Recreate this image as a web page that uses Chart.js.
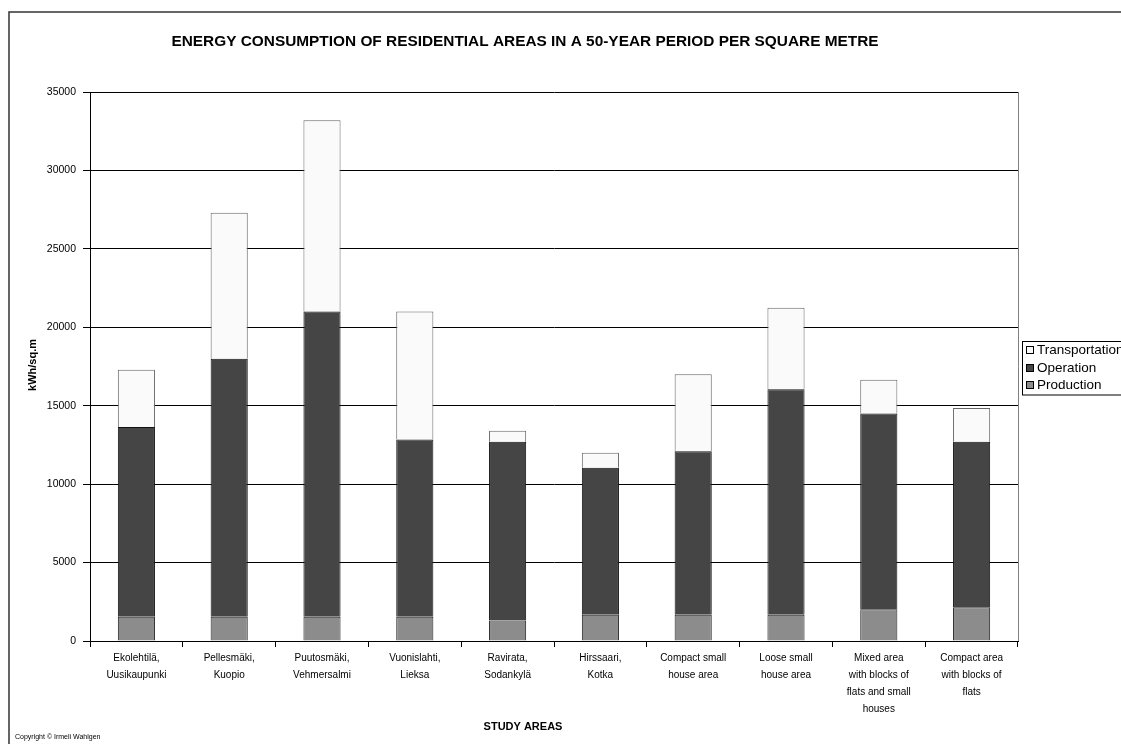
<!DOCTYPE html>
<html>
<head>
<meta charset="utf-8">
<script src="https://cdn.jsdelivr.net/npm/chart.js@4/dist/chart.umd.min.js"></script>
<style>
  html, body { margin: 0; padding: 0; background: #fff; }
  #wrap { width: 1121px; height: 744px; }
</style>
</head>
<body>
<div id="wrap"><canvas id="c" width="1121" height="744"></canvas></div>
<script>
// Study areas (category axis labels, one array per line break)
const categories = [
  ["Ekolehtilä,", "Uusikaupunki"],
  ["Pellesmäki,", "Kuopio"],
  ["Puutosmäki,", "Vehmersalmi"],
  ["Vuonislahti,", "Lieksa"],
  ["Ravirata,", "Sodankylä"],
  ["Hirssaari,", "Kotka"],
  ["Compact small", "house area"],
  ["Loose small", "house area"],
  ["Mixed area", "with blocks of", "flats and small", "houses"],
  ["Compact area", "with blocks of", "flats"]
];

// Energy use over 50 years, kWh per square metre
const production     = [1550, 1550, 1550, 1550, 1300, 1680, 1680, 1680, 2020, 2150];
const operation      = [12100, 16450, 19450, 11300, 11400, 9370, 10420, 14370, 12480, 10550];
const transportation = [3650, 9300, 12200, 8150, 700, 950, 4900, 5200, 2150, 2150];

const seriesNames = ["Production", "Operation", "Transportation"];
const yTicks = [0, 5000, 10000, 15000, 20000, 25000, 30000, 35000];

const FONT = '"Liberation Sans", Arial, Helvetica, sans-serif';

// Frame, titles, plot border and legend drawn around the chart
const decorations = {
  id: 'decorations',
  afterDraw(chart) {
    const ctx = chart.ctx;
    const a = chart.chartArea;
    ctx.save();

    // outer frame (top and left edges)
    ctx.strokeStyle = '#333';
    ctx.lineWidth = 1.5;
    ctx.beginPath();
    ctx.moveTo(9, 744);
    ctx.lineTo(9, 12);
    ctx.lineTo(1121, 12);
    ctx.stroke();

    // plot area right edge
    ctx.strokeStyle = '#808080';
    ctx.lineWidth = 1;
    ctx.beginPath();
    ctx.moveTo(a.right + 0.5, a.top);
    ctx.lineTo(a.right + 0.5, a.bottom);
    ctx.stroke();

    // main title
    ctx.fillStyle = '#000';
    ctx.textAlign = 'center';
    ctx.textBaseline = 'middle';
    ctx.font = 'bold 15.4px ' + FONT;
    ctx.fillText('ENERGY CONSUMPTION OF RESIDENTIAL AREAS IN A 50-YEAR PERIOD PER SQUARE METRE', 525, 42);

    // axis titles
    ctx.font = 'bold 11px ' + FONT;
    ctx.fillText('STUDY AREAS', 523, 727);
    ctx.save();
    ctx.translate(33, 365);
    ctx.rotate(-Math.PI / 2);
    ctx.fillText('kWh/sq.m', 0, 0);
    ctx.restore();

    // copyright note
    ctx.textAlign = 'left';
    ctx.font = '7px ' + FONT;
    ctx.fillText('Copyright © Irmeli Wahlgen', 15, 737);

    // legend, top entry is the last stacked series
    const lx = 1022, ly = 341, rowH = 17.5;
    const ds = chart.data.datasets.slice().reverse();
    ctx.fillStyle = '#fff';
    ctx.fillRect(lx, ly, 1121 - lx, rowH * ds.length + 1);
    ctx.strokeStyle = '#000';
    ctx.lineWidth = 1;
    ctx.strokeRect(lx + 0.5, ly + 0.5, 1121 - lx + 5, rowH * ds.length + 1);
    ctx.font = '13.5px ' + FONT;
    ctx.textBaseline = 'middle';
    ds.forEach((d, i) => {
      const cy = Math.round(ly + 9 + i * rowH);
      ctx.fillStyle = d.backgroundColor;
      ctx.fillRect(lx + 4, cy - 4, 8, 8);
      ctx.strokeStyle = '#000';
      ctx.strokeRect(lx + 4.5, cy - 3.5, 7, 7);
      ctx.fillStyle = '#000';
      ctx.fillText(d.label, lx + 15, cy);
    });
    ctx.restore();
  }
};

new Chart(document.getElementById('c'), {
  type: 'bar',
  data: {
    labels: categories,
    datasets: [
      { label: seriesNames[0], data: production,     backgroundColor: '#8c8c8c', borderColor: '#222', borderWidth: 1 },
      { label: seriesNames[1], data: operation,      backgroundColor: '#454545', borderColor: '#111', borderWidth: 1 },
      { label: seriesNames[2], data: transportation, backgroundColor: '#fafafa', borderColor: '#666', borderWidth: 1 }
    ]
  },
  options: {
    responsive: false,
    animation: false,
    devicePixelRatio: 1,
    datasets: { bar: { barPercentage: 0.4, categoryPercentage: 1.0 } },
    layout: { padding: { top: 92, right: 103, bottom: 0, left: 0 } },
    plugins: { legend: { display: false }, tooltip: { enabled: false }, title: { display: false } },
    scales: {
      x: {
        stacked: true,
        offset: true,
        afterFit(scale) { scale.height = 744 - 641; },
        grid: { display: true, drawOnChartArea: false, drawTicks: true, tickLength: 6, color: '#000', offset: true },
        border: { display: true, color: '#000', width: 1 },
        ticks: {
          autoSkip: false, maxRotation: 0, minRotation: 0, padding: 3,
          color: '#000',
          font: { family: FONT, size: 10, lineHeight: 1.7 }
        }
      },
      y: {
        stacked: true,
        min: 0,
        max: 35000,
        afterFit(scale) { scale.width = 90; },
        afterBuildTicks(scale) { scale.ticks = yTicks.map(v => ({ value: v })); },
        grid: { color: '#000', lineWidth: 1, tickLength: 7, drawTicks: true },
        border: { display: true, color: '#000', width: 1 },
        ticks: {
          padding: 7, color: '#000',
          font: { family: FONT, size: 10.5 },
          callback: (v) => String(v)
        }
      }
    }
  },
  plugins: [decorations]
});
</script>
</body>
</html>
